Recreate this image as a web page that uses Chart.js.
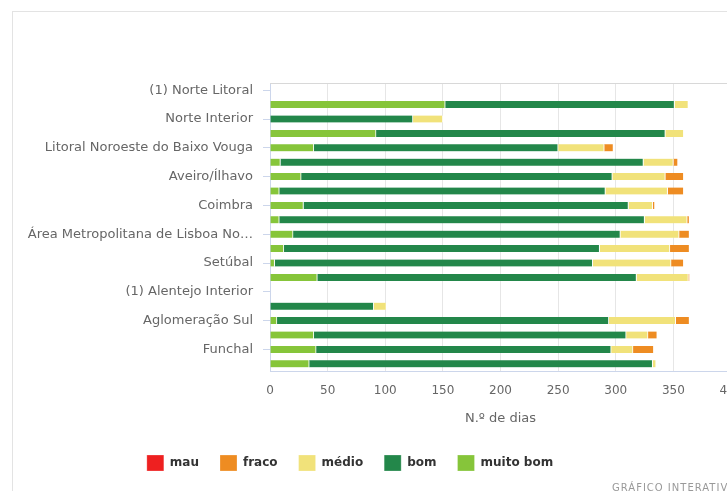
<!DOCTYPE html>
<html>
<head>
<meta charset="utf-8">
<script src="https://cdn.jsdelivr.net/npm/chart.js@4"></script>
<style>
body { margin:0; background:#fff; overflow:hidden; width:727px; height:491px; position:relative; font-family:"DejaVu Sans", sans-serif; }
#frame { position:absolute; left:12px; top:11px; width:800px; height:600px; border:1px solid #e3e3e3; }
#myChart { position:absolute; left:13px; top:12px; }
#credit { position:absolute; left:612px; top:482px; font-size:10px; letter-spacing:1px; color:#999; white-space:nowrap; }
</style>
</head>
<body>
<div id="frame"></div>
<canvas id="myChart" width="760" height="479"></canvas>
<div id="credit">GRÁFICO INTERATIVO</div>
<script>
// zonas (só as pares aparecem no eixo)
var zonas = [
	"(1) Norte Litoral",
	"Porto Litoral",
	"Norte Interior",
	"Entre Douro e Minho",
	"Litoral Noroeste do Baixo Vouga",
	"Centro Litoral",
	"Aveiro/Ílhavo",
	"Centro Interior",
	"Coimbra",
	"Oeste, Vale do Tejo e Península de Setúbal",
	"Área Metropolitana de Lisboa Norte",
	"Área Metropolitana de Lisboa Sul",
	"Setúbal",
	"Alentejo Litoral",
	"(1) Alentejo Interior",
	"Algarve",
	"Aglomeração Sul",
	"Portimão/Lagoa",
	"Funchal",
	"Açores"
];
var muitoBom = [0, 152, 0, 92, 38, 9, 27, 8, 29, 8, 20, 12, 4, 41, 0, 0, 6, 38, 40, 34];
var bom      = [0, 199, 124, 251, 212, 315, 270, 283, 282, 317, 284, 274, 276, 277, 0, 90, 288, 271, 256, 298];
var medio    = [0, 12, 26, 16, 40, 26, 46, 54, 21, 37, 51, 61, 68, 45, 0, 11, 58, 19, 19, 3];
var fraco    = [0, 0, 0, 0, 8, 4, 16, 14, 2, 2, 9, 17, 11, 1, 0, 0, 12, 8, 18, 0];
var mau      = [0, 0, 0, 0, 0, 0, 0, 0, 0, 0, 0, 0, 0, 0, 0, 0, 0, 0, 0, 0];
var xMin = 0, xMax = 400, xStep = 50;

var corLinha = '#ccd6eb';

// linha no topo da área do gráfico
var topLine = {
	id: 'topLine',
	afterDraw: function(chart) {
		var a = chart.chartArea, c = chart.ctx;
		c.save();
		c.strokeStyle = '#d8d8d8';
		c.lineWidth = 1;
		c.beginPath();
		c.moveTo(a.left, a.top + 0.5);
		c.lineTo(a.right, a.top + 0.5);
		c.stroke();
		c.restore();
	}
};
// legenda um pouco à esquerda do centro
var legendShift = {
	id: 'legendShift',
	afterLayout: function(chart) {
		chart.legend.left -= 22;
		chart.legend.right -= 22;
	}
};

function serie(nome, dados, cor) {
	return {
		label: nome,
		data: dados.map(function(v) { return v || null; }), // 0 = sem barra
		backgroundColor: cor,
		borderColor: '#ffffff',
		borderWidth: {left: 0, right: 1, top: 0, bottom: 0},
		borderSkipped: false,
		barThickness: 7
	};
}

var ctx = document.getElementById("myChart").getContext('2d');
var myChart = new Chart(ctx, {
	type: 'bar',
	data: {
		labels: zonas,
		datasets: [
			serie('muito bom', muitoBom, '#86c53a'),
			serie('bom', bom, '#23874a'),
			serie('médio', medio, '#f1e27a'),
			serie('fraco', fraco, '#ee8c22'),
			serie('mau', mau, '#ee2020')
		]
	},
	plugins: [topLine, legendShift],
	options: {
		indexAxis: 'y',
		responsive: false,
		animation: false,
		layout: { padding: { top: 71, right: 42, bottom: 10, left: 0 } },
		scales: {
			x: {
				stacked: true,
				min: xMin,
				max: xMax,
				afterFit: function(s) { s.height = 63; },
				ticks: { stepSize: xStep, color: '#666', padding: 13, font: { family: 'DejaVu Sans', size: 12 } },
				grid: { color: '#e6e6e6', drawTicks: false },
				border: { color: corLinha },
				title: { display: true, text: 'N.º de dias', color: '#666', font: { family: 'DejaVu Sans', size: 13 }, padding: { top: 0, bottom: 8 } }
			},
			y: {
				stacked: true,
				afterFit: function(s) { s.width = 257; },
				ticks: {
					color: '#666',
					padding: 10,
					maxTicksLimit: 10,
					font: { family: 'DejaVu Sans', size: 13 },
					callback: function(v) {
						var t = this.getLabelForValue(v);
						return t.length > 31 ? t.slice(0, 31) + '…' : t;
					}
				},
				grid: { drawOnChartArea: false, color: corLinha, tickLength: 7, offset: false },
				border: { color: corLinha }
			}
		},
		plugins: {
			legend: {
				position: 'bottom',
				reverse: true,
				labels: {
					boxWidth: 17,
					boxHeight: 16,
					padding: 21,
					color: '#333',
					font: { family: 'DejaVu Sans', size: 12, weight: 'bold' }
				}
			},
			tooltip: { enabled: false }
		}
	}
});
</script>
</body>
</html>
